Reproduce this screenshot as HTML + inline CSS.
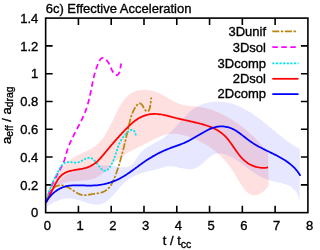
<!DOCTYPE html>
<html><head><meta charset="utf-8"><title>6c) Effective Acceleration</title>
<style>html,body{margin:0;padding:0;background:#fff;overflow:hidden}body{width:320px;height:250px;position:relative;font-family:"Liberation Sans",sans-serif}</style></head>
<body>
<svg width="320" height="250" viewBox="0 0 320 250" style="position:absolute;left:0;top:0;display:block;will-change:transform">
<rect width="320" height="250" fill="#fff"/>
<clipPath id="c"><rect x="45.65" y="18.10" width="262.25" height="194.55"/></clipPath>
<path d="M78.43,212.65v-7.00 M78.43,18.10v7.00 M111.21,212.65v-7.00 M111.21,18.10v7.00 M143.99,212.65v-7.00 M143.99,18.10v7.00 M176.78,212.65v-7.00 M176.78,18.10v7.00 M209.56,212.65v-7.00 M209.56,18.10v7.00 M242.34,212.65v-7.00 M242.34,18.10v7.00 M275.12,212.65v-7.00 M275.12,18.10v7.00 M45.65,184.86h7.00 M307.90,184.86h-7.00 M45.65,157.06h7.00 M307.90,157.06h-7.00 M45.65,129.27h7.00 M307.90,129.27h-7.00 M45.65,101.48h7.00 M307.90,101.48h-7.00 M45.65,73.69h7.00 M307.90,73.69h-7.00 M45.65,45.89h7.00 M307.90,45.89h-7.00 " stroke="#000" stroke-width="1.6" fill="none"/>
<g clip-path="url(#c)" fill="none" stroke-linejoin="round">
<path d="M46.31,202.77 L46.47,201.19 L46.68,199.63 L46.92,198.08 L47.20,196.54 L47.52,195.02 L47.86,193.51 L48.25,192.02 L48.67,190.54 L49.12,189.07 L49.60,187.63 L50.12,186.20 L50.67,184.79 L51.26,183.39 L51.87,182.02 L52.52,180.67 L53.20,179.33 L53.91,178.02 L54.65,176.73 L55.43,175.46 L56.23,174.22 L57.06,173.00 L57.92,171.80 L58.81,170.63 L59.73,169.48 L60.68,168.36 L61.65,167.27 L62.65,166.20 L63.68,165.16 L64.74,164.15 L65.82,163.17 L66.93,162.22 L68.06,161.30 L69.22,160.41 L70.41,159.55 L71.62,158.72 L72.85,157.93 L74.11,157.17 L75.39,156.45 L76.68,155.75 L78.00,155.07 L79.32,154.41 L80.66,153.76 L82.00,153.12 L83.34,152.49 L84.68,151.85 L86.02,151.20 L87.34,150.54 L88.65,149.87 L89.95,149.17 L91.23,148.44 L92.49,147.68 L93.71,146.89 L94.91,146.05 L96.08,145.17 L97.21,144.23 L98.30,143.24 L99.35,142.19 L100.37,141.09 L101.35,139.95 L102.30,138.76 L103.22,137.52 L104.11,136.25 L104.97,134.95 L105.81,133.61 L106.62,132.24 L107.42,130.85 L108.20,129.43 L108.96,128.00 L109.71,126.55 L110.44,125.08 L111.16,123.61 L111.88,122.13 L112.59,120.64 L113.30,119.16 L114.00,117.68 L114.70,116.20 L115.40,114.73 L116.11,113.28 L116.83,111.84 L117.55,110.42 L118.28,109.02 L119.02,107.65 L119.78,106.30 L120.55,104.99 L121.34,103.71 L122.14,102.46 L122.98,101.26 L123.83,100.11 L124.71,99.00 L125.62,97.94 L126.55,96.93 L127.52,95.98 L128.53,95.09 L129.56,94.27 L130.64,93.51 L131.76,92.81 L132.91,92.20 L134.11,91.65 L135.35,91.18 L136.63,90.78 L137.93,90.46 L139.27,90.20 L140.63,90.01 L142.02,89.88 L143.42,89.83 L144.84,89.83 L146.27,89.90 L147.71,90.03 L149.16,90.22 L150.61,90.47 L152.07,90.78 L153.51,91.15 L154.95,91.57 L156.38,92.04 L157.80,92.56 L159.20,93.14 L160.57,93.77 L161.93,94.44 L163.27,95.15 L164.60,95.88 L165.92,96.64 L167.22,97.42 L168.52,98.19 L169.82,98.97 L171.11,99.74 L172.41,100.49 L173.72,101.21 L175.03,101.91 L176.35,102.56 L177.69,103.16 L179.04,103.70 L180.41,104.19 L181.81,104.60 L183.22,104.95 L184.65,105.24 L186.10,105.49 L187.55,105.70 L189.02,105.88 L190.50,106.04 L191.98,106.18 L193.47,106.31 L194.96,106.45 L196.45,106.59 L197.93,106.76 L199.41,106.94 L200.88,107.16 L202.34,107.42 L203.80,107.71 L205.24,108.03 L206.68,108.38 L208.11,108.76 L209.53,109.18 L210.94,109.62 L212.35,110.10 L213.74,110.60 L215.13,111.13 L216.51,111.68 L217.88,112.26 L219.24,112.86 L220.59,113.48 L221.94,114.13 L223.27,114.80 L224.60,115.49 L225.92,116.19 L227.23,116.92 L228.53,117.67 L229.82,118.43 L231.10,119.21 L232.38,120.01 L233.64,120.83 L234.90,121.66 L236.14,122.51 L237.38,123.37 L238.61,124.25 L239.83,125.14 L241.04,126.04 L242.24,126.96 L243.43,127.90 L244.61,128.84 L245.78,129.80 L246.94,130.77 L248.09,131.75 L249.23,132.74 L250.36,133.74 L251.48,134.75 L252.59,135.77 L253.70,136.80 L254.79,137.84 L255.87,138.89 L256.94,139.94 L257.99,141.00 L259.04,142.07 L260.08,143.14 L261.11,144.22 L262.13,145.30 L263.13,146.39 L264.13,147.48 L265.11,148.58 L266.08,149.68 L267.05,150.78 L268.00,151.89 L268.73,185.57 L267.32,187.43 L265.91,189.07 L264.51,190.51 L263.11,191.76 L261.72,192.80 L260.34,193.66 L258.99,194.34 L257.66,194.84 L256.36,195.17 L255.10,195.34 L253.88,195.34 L252.71,195.19 L251.58,194.90 L250.48,194.47 L249.43,193.91 L248.41,193.23 L247.42,192.45 L246.45,191.56 L245.52,190.58 L244.61,189.52 L243.71,188.39 L242.84,187.19 L241.98,185.93 L241.13,184.63 L240.30,183.29 L239.47,181.92 L238.64,180.53 L237.82,179.13 L236.99,177.72 L236.16,176.32 L235.33,174.94 L234.48,173.58 L233.63,172.24 L232.76,170.93 L231.89,169.64 L231.00,168.37 L230.11,167.13 L229.20,165.91 L228.28,164.71 L227.35,163.54 L226.40,162.39 L225.44,161.26 L224.47,160.15 L223.49,159.07 L222.49,158.01 L221.48,156.97 L220.45,155.95 L219.41,154.95 L218.35,153.97 L217.28,153.01 L216.19,152.08 L215.08,151.16 L213.96,150.26 L212.82,149.39 L211.67,148.53 L210.49,147.69 L209.30,146.87 L208.09,146.07 L206.86,145.29 L205.62,144.53 L204.35,143.78 L203.06,143.06 L201.76,142.35 L200.43,141.66 L199.08,140.99 L197.72,140.33 L196.33,139.69 L194.92,139.07 L193.49,138.46 L192.04,137.88 L190.57,137.32 L189.09,136.79 L187.60,136.30 L186.10,135.83 L184.59,135.41 L183.08,135.02 L181.57,134.68 L180.06,134.39 L178.55,134.15 L177.04,133.96 L175.54,133.83 L174.05,133.76 L172.58,133.75 L171.11,133.81 L169.66,133.94 L168.24,134.14 L166.82,134.41 L165.42,134.74 L164.04,135.13 L162.67,135.57 L161.31,136.06 L159.96,136.59 L158.61,137.16 L157.28,137.76 L155.95,138.39 L154.62,139.04 L153.29,139.71 L151.97,140.39 L150.64,141.08 L149.32,141.77 L147.99,142.46 L146.65,143.15 L145.31,143.83 L143.97,144.51 L142.63,145.18 L141.28,145.85 L139.93,146.52 L138.59,147.19 L137.25,147.87 L135.90,148.55 L134.57,149.24 L133.23,149.93 L131.91,150.64 L130.58,151.35 L129.27,152.08 L127.96,152.82 L126.67,153.57 L125.38,154.35 L124.10,155.14 L122.84,155.95 L121.59,156.78 L120.35,157.63 L119.13,158.51 L117.92,159.42 L116.73,160.35 L115.56,161.31 L114.40,162.30 L113.27,163.32 L112.15,164.37 L111.05,165.44 L109.95,166.52 L108.86,167.60 L107.78,168.69 L106.69,169.76 L105.59,170.81 L104.49,171.84 L103.37,172.83 L102.24,173.78 L101.09,174.69 L99.91,175.54 L98.70,176.32 L97.46,177.04 L96.19,177.68 L94.88,178.24 L93.54,178.72 L92.17,179.14 L90.77,179.50 L89.34,179.81 L87.90,180.06 L86.44,180.28 L84.96,180.46 L83.48,180.62 L81.98,180.75 L80.48,180.87 L78.97,180.97 L77.47,181.08 L75.97,181.18 L74.48,181.30 L72.99,181.43 L71.52,181.58 L70.07,181.76 L68.63,181.98 L67.22,182.24 L65.83,182.54 L64.46,182.90 L63.13,183.31 L61.84,183.80 L60.58,184.35 L59.35,184.97 L58.17,185.66 L57.02,186.43 L55.92,187.27 L54.85,188.17 L53.83,189.16 L52.86,190.22 L51.93,191.35 L51.04,192.56 L50.21,193.84 L49.42,195.20 L48.68,196.64 L48.00,198.16 L47.37,199.76 L46.79,201.43 L46.26,203.19 Z" fill="rgba(255,0,0,0.12)" stroke="none"/>
<path d="M46.23,198.33 L46.88,196.88 L47.57,195.45 L48.29,194.07 L49.05,192.71 L49.84,191.39 L50.67,190.11 L51.53,188.86 L52.42,187.64 L53.35,186.45 L54.30,185.30 L55.29,184.18 L56.30,183.10 L57.35,182.05 L58.42,181.03 L59.51,180.04 L60.64,179.09 L61.79,178.17 L62.96,177.28 L64.16,176.43 L65.38,175.61 L66.62,174.82 L67.89,174.06 L69.17,173.34 L70.48,172.64 L71.80,171.98 L73.14,171.36 L74.50,170.76 L75.88,170.19 L77.27,169.66 L78.68,169.16 L80.10,168.69 L81.53,168.25 L82.98,167.84 L84.44,167.47 L85.91,167.12 L87.39,166.81 L88.88,166.53 L90.38,166.28 L91.89,166.06 L93.41,165.87 L94.93,165.71 L96.46,165.58 L97.99,165.48 L99.53,165.41 L101.07,165.37 L102.61,165.37 L104.16,165.39 L105.70,165.44 L107.25,165.52 L108.80,165.64 L110.34,165.78 L111.88,165.95 L113.42,166.15 L114.95,166.37 L116.48,166.59 L117.98,166.80 L119.47,166.99 L120.93,167.13 L122.37,167.22 L123.77,167.23 L125.14,167.16 L126.46,166.99 L127.73,166.70 L128.96,166.28 L130.13,165.71 L131.24,164.98 L132.29,164.08 L133.28,163.02 L134.23,161.83 L135.15,160.55 L136.05,159.20 L136.95,157.82 L137.87,156.45 L138.81,155.11 L139.78,153.83 L140.81,152.64 L141.87,151.53 L142.98,150.49 L144.12,149.52 L145.29,148.60 L146.49,147.74 L147.72,146.93 L148.96,146.15 L150.23,145.41 L151.51,144.69 L152.80,143.99 L154.09,143.30 L155.39,142.62 L156.69,141.94 L157.99,141.26 L159.28,140.55 L160.55,139.83 L161.81,139.08 L163.06,138.30 L164.28,137.48 L165.47,136.61 L166.65,135.69 L167.79,134.74 L168.92,133.75 L170.03,132.72 L171.12,131.66 L172.20,130.58 L173.27,129.47 L174.32,128.34 L175.36,127.20 L176.40,126.04 L177.43,124.88 L178.46,123.71 L179.49,122.54 L180.52,121.37 L181.55,120.21 L182.58,119.05 L183.62,117.91 L184.67,116.79 L185.73,115.69 L186.80,114.61 L187.89,113.56 L188.99,112.54 L190.11,111.55 L191.25,110.60 L192.41,109.70 L193.60,108.84 L194.81,108.03 L196.04,107.27 L197.31,106.56 L198.59,105.90 L199.90,105.29 L201.22,104.73 L202.57,104.22 L203.93,103.75 L205.30,103.34 L206.70,102.97 L208.10,102.65 L209.52,102.37 L210.95,102.14 L212.38,101.96 L213.83,101.82 L215.28,101.72 L216.73,101.67 L218.19,101.67 L219.65,101.70 L221.11,101.78 L222.57,101.91 L224.03,102.07 L225.48,102.28 L226.93,102.52 L228.37,102.81 L229.80,103.14 L231.22,103.51 L232.64,103.91 L234.04,104.36 L235.43,104.84 L236.81,105.36 L238.18,105.91 L239.54,106.50 L240.89,107.12 L242.23,107.76 L243.56,108.44 L244.88,109.15 L246.20,109.88 L247.50,110.64 L248.80,111.42 L250.09,112.22 L251.37,113.05 L252.65,113.90 L253.91,114.76 L255.18,115.65 L256.43,116.54 L257.68,117.46 L258.93,118.39 L260.17,119.33 L261.40,120.28 L262.63,121.24 L263.85,122.21 L265.07,123.19 L266.29,124.17 L267.50,125.16 L268.71,126.15 L269.92,127.15 L271.12,128.14 L272.32,129.14 L273.52,130.13 L274.72,131.12 L275.92,132.10 L277.11,133.08 L278.31,134.05 L279.50,135.02 L280.69,135.97 L281.89,136.92 L283.08,137.85 L284.27,138.77 L285.47,139.67 L286.66,140.56 L287.86,141.43 L289.06,142.28 L290.26,143.11 L291.46,143.92 L292.67,144.71 L293.88,145.47 L295.09,146.21 L296.31,146.92 L297.53,147.61 L298.75,148.26 L299.98,148.89 L299.61,203.04 L299.33,200.91 L298.95,198.94 L298.46,197.13 L297.89,195.47 L297.23,193.96 L296.48,192.57 L295.66,191.31 L294.76,190.17 L293.79,189.14 L292.75,188.21 L291.65,187.37 L290.50,186.62 L289.29,185.95 L288.04,185.35 L286.74,184.81 L285.41,184.33 L284.04,183.89 L282.64,183.49 L281.22,183.12 L279.77,182.77 L278.31,182.44 L276.84,182.12 L275.37,181.79 L273.89,181.46 L272.41,181.10 L270.95,180.73 L269.49,180.32 L268.05,179.87 L266.63,179.37 L265.23,178.83 L263.85,178.24 L262.50,177.60 L261.16,176.92 L259.83,176.21 L258.53,175.46 L257.23,174.68 L255.95,173.88 L254.68,173.05 L253.42,172.20 L252.17,171.33 L250.93,170.44 L249.69,169.55 L248.46,168.64 L247.23,167.73 L246.00,166.82 L244.77,165.91 L243.55,165.01 L242.32,164.11 L241.09,163.22 L239.85,162.35 L238.61,161.49 L237.36,160.66 L236.10,159.84 L234.83,159.06 L233.56,158.30 L232.26,157.58 L230.96,156.89 L229.64,156.24 L228.30,155.64 L226.95,155.08 L225.58,154.57 L224.20,154.13 L222.81,153.77 L221.42,153.50 L220.03,153.34 L218.66,153.30 L217.30,153.41 L215.96,153.66 L214.65,154.08 L213.37,154.66 L212.11,155.38 L210.87,156.23 L209.65,157.17 L208.43,158.19 L207.23,159.26 L206.04,160.37 L204.84,161.50 L203.64,162.61 L202.43,163.70 L201.22,164.73 L199.98,165.69 L198.73,166.56 L197.46,167.31 L196.16,167.93 L194.84,168.41 L193.49,168.77 L192.12,169.01 L190.73,169.15 L189.32,169.19 L187.90,169.14 L186.47,169.02 L185.02,168.84 L183.57,168.60 L182.11,168.32 L180.65,168.01 L179.19,167.67 L177.73,167.33 L176.27,167.00 L174.81,166.70 L173.36,166.46 L171.92,166.29 L170.48,166.20 L169.05,166.23 L167.63,166.36 L166.22,166.58 L164.81,166.88 L163.40,167.24 L161.99,167.64 L160.58,168.07 L159.17,168.50 L157.75,168.93 L156.32,169.34 L154.88,169.73 L153.44,170.11 L152.00,170.47 L150.55,170.83 L149.10,171.19 L147.66,171.55 L146.21,171.92 L144.77,172.29 L143.34,172.69 L141.92,173.10 L140.50,173.54 L139.10,174.01 L137.71,174.51 L136.34,175.04 L134.98,175.62 L133.64,176.25 L132.32,176.92 L131.03,177.66 L129.75,178.45 L128.51,179.30 L127.28,180.22 L126.09,181.21 L124.92,182.26 L123.77,183.35 L122.64,184.49 L121.53,185.67 L120.43,186.87 L119.35,188.09 L118.27,189.33 L117.20,190.56 L116.14,191.80 L115.08,193.02 L114.02,194.22 L112.96,195.40 L111.89,196.54 L110.81,197.64 L109.73,198.69 L108.64,199.68 L107.53,200.60 L106.40,201.45 L105.26,202.22 L104.09,202.90 L102.90,203.49 L101.69,203.97 L100.44,204.33 L99.17,204.58 L97.86,204.71 L96.53,204.72 L95.17,204.64 L93.79,204.47 L92.38,204.23 L90.96,203.92 L89.52,203.55 L88.07,203.13 L86.62,202.69 L85.15,202.21 L83.68,201.73 L82.20,201.24 L80.73,200.76 L79.26,200.30 L77.79,199.87 L76.33,199.48 L74.89,199.14 L73.45,198.86 L72.04,198.65 L70.63,198.51 L69.24,198.44 L67.86,198.45 L66.49,198.52 L65.12,198.66 L63.76,198.86 L62.41,199.14 L61.05,199.49 L59.70,199.90 L58.35,200.38 L56.99,200.92 L55.64,201.54 L54.27,202.22 L52.90,202.96 L51.52,203.77 L50.13,204.64 L48.72,205.58 L47.30,206.58 L45.87,207.65 Z" fill="rgba(0,0,255,0.095)" stroke="none"/>
<path d="M45.92,202.47 L46.37,201.25 L46.86,199.92 L47.39,198.53 L47.98,197.09 L48.61,195.64 L49.30,194.19 L50.06,192.77 L50.88,191.40 L51.77,190.12 L52.74,188.94 L53.80,187.90 L54.94,187.01 L56.17,186.30 L57.49,185.80 L58.88,185.49 L60.33,185.36 L61.80,185.41 L63.28,185.62 L64.74,185.98 L66.17,186.49 L67.56,187.11 L68.92,187.83 L70.26,188.63 L71.58,189.47 L72.89,190.33 L74.18,191.19 L75.48,192.03 L76.77,192.82 L78.08,193.53 L79.39,194.14 L80.72,194.64 L82.08,194.98 L83.47,195.16 L84.88,195.17 L86.33,195.05 L87.81,194.83 L89.32,194.56 L90.86,194.27 L92.43,194.00 L94.03,193.76 L95.64,193.53 L97.24,193.30 L98.81,193.04 L100.35,192.73 L101.83,192.34 L103.23,191.87 L104.55,191.28 L105.77,190.58 L106.91,189.76 L107.96,188.85 L108.93,187.84 L109.83,186.75 L110.67,185.58 L111.45,184.35 L112.18,183.06 L112.86,181.72 L113.49,180.34 L114.10,178.93 L114.67,177.50 L115.22,176.06 L115.75,174.61 L116.26,173.17 L116.77,171.73 L117.26,170.29 L117.74,168.85 L118.21,167.41 L118.67,165.97 L119.11,164.54 L119.55,163.10 L119.97,161.67 L120.39,160.24 L120.80,158.80 L121.20,157.37 L121.59,155.94 L121.98,154.50 L122.36,153.07 L122.73,151.63 L123.10,150.19 L123.46,148.76 L123.82,147.32 L124.17,145.87 L124.52,144.43 L124.86,142.98 L125.20,141.54 L125.54,140.08 L125.88,138.63 L126.21,137.17 L126.55,135.71 L126.88,134.25 L127.21,132.78 L127.55,131.31 L127.88,129.84 L128.22,128.36 L128.55,126.87 L128.89,125.38 L129.24,123.89 L129.59,122.40 L129.96,120.91 L130.35,119.44 L130.76,117.97 L131.20,116.52 L131.67,115.08 L132.19,113.67 L132.74,112.29 L133.35,110.94 L134.01,109.62 L134.73,108.33 L135.51,107.09 L136.36,105.90 L137.29,104.75 L138.30,103.74 L139.44,103.27 L140.70,103.67 L141.87,104.72 L142.81,106.11 L143.63,107.64 L144.49,109.14 L145.52,110.43 L146.63,111.27 L147.66,111.44 L148.52,110.88 L149.22,109.76 L149.76,108.27 L150.17,106.58 L150.45,104.89 L150.63,103.32 L150.75,101.85 L150.89,100.43 L151.09,99.00 L151.42,97.51" stroke="#b8860b" stroke-width="1.75" stroke-dasharray="7 1.6 2.4 1.6" stroke-dashoffset="-3.7"/>
<path d="M45.91,202.50 L46.34,201.06 L46.79,199.62 L47.26,198.18 L47.73,196.74 L48.22,195.31 L48.72,193.89 L49.24,192.47 L49.76,191.05 L50.31,189.65 L50.86,188.24 L51.43,186.84 L52.02,185.45 L52.62,184.07 L53.24,182.69 L53.87,181.31 L54.52,179.95 L55.18,178.59 L55.87,177.24 L56.56,175.90 L57.28,174.56 L58.00,173.24 L58.73,171.91 L59.46,170.58 L60.18,169.26 L60.89,167.92 L61.58,166.59 L62.25,165.24 L62.88,163.88 L63.48,162.50 L64.04,161.11 L64.55,159.70 L65.01,158.27 L65.43,156.82 L65.83,155.37 L66.22,153.91 L66.63,152.46 L67.05,151.01 L67.51,149.58 L68.00,148.16 L68.51,146.75 L69.05,145.35 L69.62,143.96 L70.21,142.58 L70.82,141.20 L71.45,139.84 L72.09,138.48 L72.75,137.12 L73.43,135.77 L74.11,134.42 L74.80,133.08 L75.50,131.74 L76.20,130.40 L76.91,129.06 L77.62,127.72 L78.32,126.38 L79.02,125.04 L79.72,123.69 L80.41,122.34 L81.09,120.99 L81.75,119.63 L82.41,118.26 L83.04,116.89 L83.67,115.51 L84.27,114.13 L84.85,112.73 L85.40,111.32 L85.93,109.91 L86.44,108.48 L86.91,107.04 L87.37,105.59 L87.80,104.13 L88.21,102.67 L88.60,101.20 L88.97,99.73 L89.33,98.25 L89.67,96.78 L90.00,95.30 L90.32,93.82 L90.63,92.35 L90.93,90.87 L91.22,89.40 L91.51,87.94 L91.79,86.48 L92.08,85.03 L92.37,83.57 L92.66,82.13 L92.96,80.68 L93.28,79.23 L93.61,77.78 L93.96,76.33 L94.33,74.88 L94.72,73.42 L95.15,71.96 L95.60,70.49 L96.08,69.02 L96.61,67.54 L97.17,66.05 L97.77,64.55 L98.42,63.05 L99.12,61.53 L99.88,60.08 L100.73,58.87 L101.71,58.06 L102.84,57.84 L104.10,58.25 L105.38,59.10 L106.54,60.18 L107.53,61.36 L108.37,62.61 L109.10,63.92 L109.76,65.29 L110.38,66.70 L111.01,68.14 L111.69,69.61 L112.44,71.06 L113.29,72.42 L114.25,73.65 L115.32,74.61 L116.44,75.07 L117.53,74.82 L118.50,73.95 L119.26,72.67 L119.79,71.13 L120.16,69.45 L120.44,67.74 L120.69,66.11 L120.99,64.66 L121.39,63.51" stroke="#ff00ff" stroke-width="1.75" stroke-dasharray="5.5 3.5" stroke-dashoffset="1"/>
<path d="M45.86,202.53 L46.20,201.02 L46.56,199.52 L46.95,198.04 L47.35,196.58 L47.79,195.13 L48.24,193.70 L48.71,192.28 L49.21,190.88 L49.72,189.48 L50.26,188.10 L50.81,186.72 L51.38,185.35 L51.97,183.99 L52.58,182.63 L53.20,181.27 L53.84,179.92 L54.49,178.57 L55.16,177.22 L55.84,175.87 L56.54,174.51 L57.25,173.15 L57.97,171.79 L58.70,170.42 L59.45,169.04 L60.22,167.69 L61.04,166.39 L61.93,165.20 L62.91,164.14 L64.01,163.27 L65.24,162.61 L66.61,162.19 L68.06,162.02 L69.55,162.06 L71.08,162.22 L72.64,162.43 L74.20,162.60 L75.77,162.67 L77.32,162.55 L78.84,162.17 L80.34,161.58 L81.82,160.85 L83.26,160.06 L84.67,159.28 L86.06,158.58 L87.41,158.05 L88.73,157.76 L90.02,157.78 L91.28,158.16 L92.51,158.88 L93.72,159.85 L94.89,161.04 L96.05,162.37 L97.18,163.78 L98.30,165.21 L99.40,166.61 L100.48,167.91 L101.56,169.04 L102.63,169.96 L103.69,170.60 L104.74,170.90 L105.80,170.79 L106.85,170.31 L107.87,169.51 L108.87,168.44 L109.84,167.17 L110.75,165.74 L111.60,164.22 L112.39,162.68 L113.10,161.14 L113.73,159.63 L114.32,158.14 L114.85,156.66 L115.34,155.21 L115.81,153.77 L116.25,152.36 L116.69,150.95 L117.13,149.57 L117.58,148.19 L118.06,146.84 L118.56,145.49 L119.11,144.15 L119.71,142.83 L120.37,141.51 L121.10,140.20 L121.91,138.90 L122.80,137.61 L123.77,136.34 L124.82,135.09 L125.95,133.87 L127.14,132.69 L128.39,131.61 L129.65,130.72 L130.90,130.12 L132.10,129.91 L133.22,130.18 L134.20,130.94 L135.00,132.14 L135.54,133.73 L135.77,135.65" stroke="#00e5ee" stroke-width="1.75" stroke-dasharray="2.2 1.4"/>
<path d="M45.89,202.50 L46.61,201.12 L47.32,199.78 L48.02,198.47 L48.71,197.18 L49.39,195.90 L50.06,194.62 L50.73,193.32 L51.40,192.01 L52.07,190.66 L52.73,189.28 L53.41,187.88 L54.09,186.46 L54.80,185.04 L55.52,183.62 L56.28,182.23 L57.07,180.88 L57.90,179.57 L58.78,178.32 L59.71,177.14 L60.70,176.05 L61.75,175.05 L62.87,174.15 L64.06,173.38 L65.32,172.70 L66.64,172.12 L68.01,171.62 L69.42,171.19 L70.88,170.82 L72.36,170.49 L73.87,170.20 L75.39,169.94 L76.92,169.69 L78.46,169.43 L79.99,169.17 L81.51,168.89 L83.02,168.57 L84.50,168.21 L85.95,167.81 L87.37,167.35 L88.76,166.83 L90.11,166.25 L91.43,165.60 L92.70,164.87 L93.92,164.08 L95.11,163.21 L96.25,162.28 L97.36,161.29 L98.45,160.25 L99.50,159.17 L100.54,158.06 L101.55,156.92 L102.55,155.76 L103.54,154.58 L104.52,153.40 L105.50,152.22 L106.47,151.04 L107.44,149.87 L108.41,148.70 L109.39,147.54 L110.36,146.39 L111.33,145.23 L112.31,144.09 L113.29,142.94 L114.27,141.81 L115.25,140.68 L116.24,139.55 L117.23,138.43 L118.23,137.32 L119.23,136.21 L120.23,135.10 L121.25,134.01 L122.27,132.91 L123.29,131.83 L124.33,130.75 L125.37,129.67 L126.42,128.60 L127.48,127.54 L128.55,126.48 L129.64,125.44 L130.74,124.41 L131.85,123.40 L132.99,122.42 L134.15,121.47 L135.34,120.55 L136.55,119.68 L137.80,118.85 L139.08,118.08 L140.40,117.36 L141.76,116.70 L143.16,116.11 L144.60,115.58 L146.07,115.13 L147.57,114.75 L149.08,114.44 L150.60,114.21 L152.12,114.05 L153.64,113.96 L155.16,113.95 L156.66,114.00 L158.16,114.11 L159.65,114.28 L161.14,114.49 L162.62,114.75 L164.09,115.04 L165.57,115.37 L167.03,115.71 L168.50,116.08 L169.96,116.46 L171.41,116.85 L172.86,117.23 L174.32,117.62 L175.76,117.99 L177.21,118.35 L178.66,118.70 L180.10,119.03 L181.55,119.37 L183.00,119.69 L184.44,120.01 L185.89,120.33 L187.34,120.65 L188.80,120.97 L190.26,121.29 L191.72,121.62 L193.18,121.95 L194.65,122.29 L196.13,122.64 L197.61,122.99 L199.09,123.37 L200.57,123.76 L202.04,124.16 L203.52,124.58 L204.98,125.03 L206.44,125.50 L207.88,125.99 L209.31,126.51 L210.72,127.06 L212.11,127.64 L213.49,128.25 L214.84,128.90 L216.16,129.59 L217.46,130.31 L218.73,131.08 L219.96,131.89 L221.16,132.74 L222.33,133.64 L223.46,134.59 L224.54,135.59 L225.59,136.64 L226.60,137.73 L227.58,138.87 L228.53,140.04 L229.45,141.24 L230.36,142.46 L231.25,143.70 L232.13,144.96 L233.00,146.23 L233.87,147.50 L234.74,148.78 L235.61,150.05 L236.49,151.31 L237.38,152.55 L238.29,153.78 L239.22,154.98 L240.17,156.16 L241.15,157.30 L242.16,158.40 L243.21,159.46 L244.30,160.47 L245.44,161.42 L246.62,162.32 L247.84,163.16 L249.10,163.94 L250.41,164.65 L251.75,165.30 L253.12,165.88 L254.52,166.39 L255.95,166.82 L257.40,167.18 L258.88,167.47 L260.37,167.68 L261.88,167.81 L263.40,167.85 L264.94,167.81 L266.48,167.68 L268.03,167.47" stroke="#ff0000" stroke-width="1.75"/>
<path d="M46.04,202.59 L46.73,201.29 L47.49,200.01 L48.32,198.76 L49.22,197.55 L50.18,196.36 L51.19,195.23 L52.26,194.13 L53.38,193.09 L54.55,192.09 L55.76,191.16 L57.00,190.29 L58.29,189.48 L59.60,188.74 L60.94,188.08 L62.30,187.49 L63.69,186.99 L65.09,186.56 L66.51,186.21 L67.94,185.92 L69.39,185.69 L70.86,185.52 L72.33,185.40 L73.82,185.31 L75.31,185.27 L76.82,185.26 L78.33,185.27 L79.84,185.30 L81.37,185.35 L82.89,185.40 L84.42,185.46 L85.95,185.51 L87.48,185.55 L89.00,185.57 L90.53,185.58 L92.05,185.55 L93.57,185.49 L95.08,185.40 L96.58,185.28 L98.08,185.12 L99.57,184.92 L101.05,184.70 L102.53,184.44 L103.99,184.15 L105.45,183.82 L106.90,183.46 L108.33,183.06 L109.76,182.64 L111.17,182.18 L112.58,181.68 L113.97,181.15 L115.34,180.59 L116.71,180.00 L118.05,179.37 L119.39,178.71 L120.71,178.01 L122.01,177.29 L123.31,176.54 L124.59,175.76 L125.86,174.96 L127.12,174.14 L128.38,173.30 L129.63,172.45 L130.87,171.58 L132.10,170.70 L133.33,169.81 L134.56,168.91 L135.79,168.01 L137.01,167.11 L138.23,166.20 L139.46,165.30 L140.68,164.40 L141.91,163.51 L143.14,162.63 L144.38,161.76 L145.62,160.90 L146.87,160.06 L148.13,159.24 L149.40,158.43 L150.67,157.65 L151.95,156.88 L153.24,156.13 L154.54,155.40 L155.85,154.69 L157.16,153.99 L158.48,153.31 L159.82,152.65 L161.16,152.01 L162.51,151.38 L163.86,150.77 L165.23,150.17 L166.60,149.59 L167.99,149.02 L169.38,148.47 L170.78,147.93 L172.19,147.40 L173.61,146.89 L175.03,146.39 L176.45,145.89 L177.88,145.39 L179.29,144.88 L180.70,144.35 L182.10,143.80 L183.48,143.23 L184.84,142.63 L186.19,142.01 L187.53,141.36 L188.85,140.69 L190.17,140.00 L191.48,139.29 L192.79,138.57 L194.09,137.84 L195.40,137.09 L196.70,136.32 L198.00,135.55 L199.31,134.78 L200.63,133.99 L201.95,133.21 L203.28,132.43 L204.62,131.67 L205.97,130.93 L207.32,130.22 L208.69,129.55 L210.08,128.92 L211.47,128.35 L212.88,127.83 L214.30,127.39 L215.74,127.02 L217.19,126.73 L218.66,126.52 L220.14,126.41 L221.61,126.37 L223.09,126.42 L224.56,126.56 L226.02,126.77 L227.46,127.08 L228.88,127.46 L230.28,127.93 L231.64,128.47 L232.98,129.09 L234.30,129.78 L235.60,130.53 L236.87,131.33 L238.13,132.17 L239.38,133.05 L240.62,133.96 L241.84,134.89 L243.06,135.84 L244.28,136.80 L245.50,137.76 L246.72,138.71 L247.94,139.65 L249.17,140.56 L250.40,141.45 L251.65,142.31 L252.91,143.14 L254.18,143.94 L255.46,144.71 L256.74,145.46 L258.04,146.19 L259.34,146.91 L260.65,147.60 L261.97,148.29 L263.29,148.96 L264.62,149.62 L265.95,150.28 L267.29,150.93 L268.63,151.59 L269.97,152.24 L271.32,152.89 L272.67,153.55 L274.01,154.22 L275.36,154.89 L276.70,155.58 L278.03,156.28 L279.36,156.99 L280.67,157.72 L281.98,158.47 L283.27,159.24 L284.54,160.03 L285.79,160.85 L287.03,161.69 L288.24,162.56 L289.43,163.46 L290.60,164.39 L291.73,165.35 L292.84,166.35 L293.92,167.39 L294.96,168.47 L295.97,169.58 L296.95,170.75 L297.88,171.95 L298.77,173.21 L299.62,174.51 L300.43,175.87" stroke="#0000ff" stroke-width="1.75"/>
</g>
<rect x="45.65" y="18.10" width="262.25" height="194.55" stroke="#000" stroke-width="1.6" fill="none"/>
<g fill="none" stroke-width="1.75">
<path d="M272.3,31.4H296.6" stroke="#b8860b" stroke-dasharray="7 1.6 2.4 1.6"/>
<path d="M272.3,47.2H298.5" stroke="#ff00ff" stroke-dasharray="5.5 3.5"/>
<path d="M272.3,63.3H298.5" stroke="#00e5ee" stroke-dasharray="2.2 1.4"/>
<path d="M272.3,78.8H298.5" stroke="#ff0000"/>
<path d="M272.3,94.1H298.5" stroke="#0000ff"/>
</g>
<g font-family="'Liberation Sans', sans-serif" font-size="13" fill="#000" stroke="#000" stroke-width="0.35">
<text x="45.7" y="13.2">6c) Effective Acceleration</text>
<text x="47.25" y="230.2" text-anchor="middle">0</text>
<text x="80.03" y="230.2" text-anchor="middle">1</text>
<text x="112.81" y="230.2" text-anchor="middle">2</text>
<text x="145.59" y="230.2" text-anchor="middle">3</text>
<text x="178.38" y="230.2" text-anchor="middle">4</text>
<text x="211.16" y="230.2" text-anchor="middle">5</text>
<text x="243.94" y="230.2" text-anchor="middle">6</text>
<text x="276.72" y="230.2" text-anchor="middle">7</text>
<text x="309.50" y="230.2" text-anchor="middle">8</text>
<text x="38.3" y="217.35" text-anchor="end">0</text>
<text x="38.3" y="189.56" text-anchor="end">0.2</text>
<text x="38.3" y="161.76" text-anchor="end">0.4</text>
<text x="38.3" y="133.97" text-anchor="end">0.6</text>
<text x="38.3" y="106.18" text-anchor="end">0.8</text>
<text x="38.3" y="78.39" text-anchor="end">1</text>
<text x="38.3" y="50.59" text-anchor="end">1.2</text>
<text x="38.3" y="22.80" text-anchor="end">1.4</text>
<text x="266" y="35.70" text-anchor="end">3Dunif</text>
<text x="266" y="51.50" text-anchor="end">3Dsol</text>
<text x="266" y="67.60" text-anchor="end">3Dcomp</text>
<text x="266" y="83.10" text-anchor="end">2Dsol</text>
<text x="266" y="98.40" text-anchor="end">2Dcomp</text>
<text x="162.8" y="245">t / t<tspan font-size="10.4" dy="2.6">cc</tspan></text>
<text transform="translate(10.6,144.0) rotate(-90)">a<tspan font-size="10.4" dy="2.6">eff</tspan><tspan dy="-2.6"> / a</tspan><tspan font-size="10.4" dy="2.6">drag</tspan></text>
</g>
</svg>
</body></html>
